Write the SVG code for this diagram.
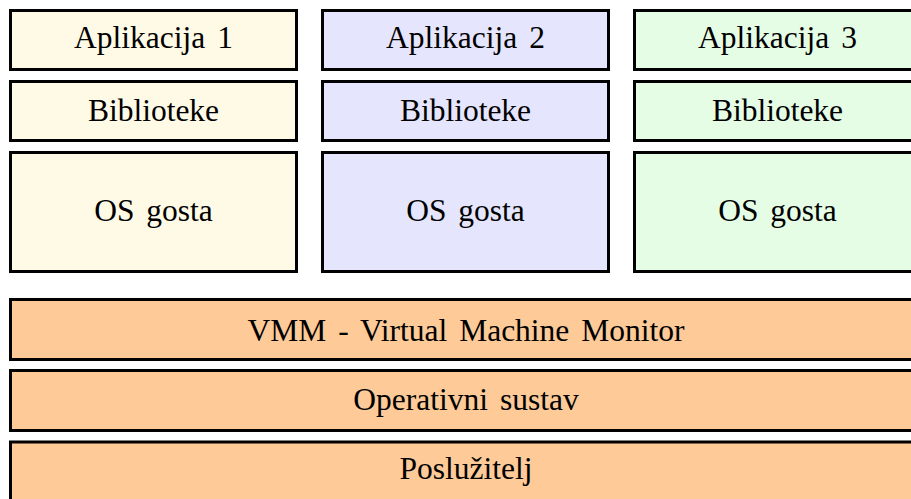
<svg xmlns="http://www.w3.org/2000/svg" width="911" height="499" viewBox="0 0 911 499">
<style>
rect{stroke:#000;stroke-width:3}
text{font-family:"Liberation Serif","Times New Roman",serif;font-size:31.5px;word-spacing:4px;fill:#000;text-anchor:middle}
.y{fill:#FFFAE6}.b{fill:#E5E5FD}.g{fill:#E5FCE5}.o{fill:#FDCA98}
</style>
<rect width="911" height="499" fill="#fff" style="stroke:none"/>
<g id="app1"><rect class="y" x="10.5" y="10.5" width="286" height="59"/><text x="153.5" y="48">Aplikacija 1</text></g>
<g id="lib1"><rect class="y" x="10.5" y="81.5" width="286" height="59"/><text x="153.5" y="121">Biblioteke</text></g>
<g id="os1"><rect class="y" x="10.5" y="152.5" width="286" height="119"/><text x="153.5" y="221">OS gosta</text></g>
<g id="app2"><rect class="b" x="322.5" y="10.5" width="286" height="59"/><text x="465.5" y="48">Aplikacija 2</text></g>
<g id="lib2"><rect class="b" x="322.5" y="81.5" width="286" height="59"/><text x="465.5" y="121">Biblioteke</text></g>
<g id="os2"><rect class="b" x="322.5" y="152.5" width="286" height="119"/><text x="465.5" y="221">OS gosta</text></g>
<g id="app3"><rect class="g" x="634.5" y="10.5" width="286" height="59"/><text x="777.5" y="48">Aplikacija 3</text></g>
<g id="lib3"><rect class="g" x="634.5" y="81.5" width="286" height="59"/><text x="777.5" y="121">Biblioteke</text></g>
<g id="os3"><rect class="g" x="634.5" y="152.5" width="286" height="119"/><text x="777.5" y="221">OS gosta</text></g>
<g id="vmm"><rect class="o" x="10.5" y="299.5" width="912" height="60"/><text x="466" y="341">VMM - Virtual Machine Monitor</text></g>
<g id="os"><rect class="o" x="10.5" y="370.5" width="912" height="60"/><text x="466" y="410">Operativni sustav</text></g>
<g id="server"><rect class="o" x="10.5" y="442" width="912" height="80"/><text x="466" y="479">Poslužitelj</text></g>
<g id="connectors"/>
</svg>
